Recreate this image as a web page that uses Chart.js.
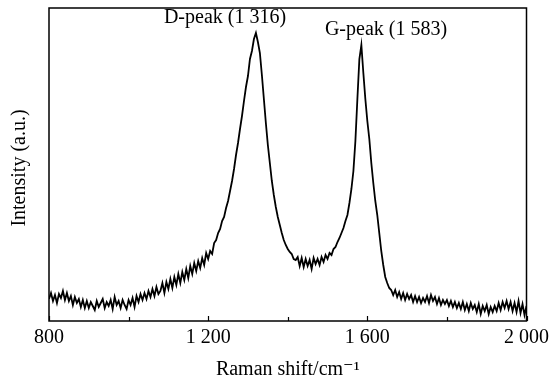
<!DOCTYPE html>
<html>
<head>
<meta charset="utf-8">
<script src="https://cdn.jsdelivr.net/npm/chart.js@4"></script>
<style>
  html, body { margin: 0; padding: 0; background: #fff; }
  #wrap { width: 554px; height: 382px; }
</style>
</head>
<body>
<div id="wrap"><canvas id="c" width="554" height="382"></canvas></div>
<script>
// Raman shift (cm^-1), sampled every 5 cm^-1 from 800 to 2000
const ramanShift = [];
for (let x = 800; x <= 2000; x += 5) ramanShift.push(x);

// Intensity (a.u.)
const intensity = [
  22,28,20,26,18,27,23,30,21,28,20,25,16,24,18,22,14,21,13,20,
  13,19,15,11,20,14,18,22,13,19,15,21,12,24,16,20,13,21,16,12,
  21,16,23,14,25,19,27,21,28,22,30,24,32,25,34,27,30,38,28,39,
  32,42,33,44,36,47,38,49,41,52,43,55,47,58,50,60,53,63,56,68,
  62,70,67,78,81,88,92,100,104,113,120,130,140,152,166,178,192,205,220,234,
  245,262,270,282,288,279,268,246,222,198,176,158,140,126,114,104,96,88,81,76,
  72,69,67,62,61,64,55,63,54,62,55,61,52,63,57,62,56,64,59,66,
  62,68,66,72,74,79,83,88,93,100,106,118,132,150,180,222,262,276,248,222,
  200,182,158,138,120,106,88,70,56,44,38,33,31,26,31,24,29,22,28,21,
  27,22,26,19,25,19,24,18,23,19,25,18,26,20,24,17,23,16,21,17,
  21,15,20,14,19,13,18,12,19,11,17,10,18,12,16,9,17,7,15,10,
  16,7,14,9,15,10,18,11,19,13,20,12,19,10,18,9,20,8,17,6,
  15
];

// Axis tick labels
const xTickValues = [800, 1200, 1600, 2000];
const xTickLabels = ["800", "1 200", "1 600", "2 000"];
const xMinorValues = [1000, 1400, 1800];

// Peak annotations
const peakLabels = ["D-peak (1 316)", "G-peak (1 583)"];

const FONT = "'Liberation Serif', 'DejaVu Serif', serif";

const framePlugin = {
  id: 'frame',
  afterDraw(chart) {
    const ctx = chart.ctx, a = chart.chartArea, xs = chart.scales.x;
    ctx.save();
    ctx.strokeStyle = '#000';
    ctx.lineWidth = 1.5;
    ctx.strokeRect(a.left, a.top, a.right - a.left, a.bottom - a.top);
    ctx.lineWidth = 1.2;
    xTickValues.forEach(v => {
      const px = Math.round(xs.getPixelForValue(v)) + 0.5;
      ctx.beginPath(); ctx.moveTo(px, a.bottom); ctx.lineTo(px, a.bottom - 5); ctx.stroke();
    });
    xMinorValues.forEach(v => {
      const px = Math.round(xs.getPixelForValue(v)) + 0.5;
      ctx.beginPath(); ctx.moveTo(px, a.bottom); ctx.lineTo(px, a.bottom - 4); ctx.stroke();
    });
    // peak labels
    ctx.fillStyle = '#000';
    ctx.font = '20px ' + FONT;
    ctx.textAlign = 'center';
    ctx.textBaseline = 'middle';
    ctx.fillText(peakLabels[0], 225, 18);
    ctx.fillText(peakLabels[1], 386, 30);
    // y title
    ctx.save();
    ctx.translate(20, 168);
    ctx.rotate(-Math.PI / 2);
    ctx.fillText('Intensity (a.u.)', 0, 0);
    ctx.restore();
    ctx.restore();
  }
};

new Chart(document.getElementById('c'), {
  type: 'line',
  data: {
    datasets: [{
      data: ramanShift.map((x, i) => ({ x: x, y: intensity[i] })),
      borderColor: '#000',
      borderWidth: 1.8,
      pointRadius: 0,
      tension: 0,
      fill: false
    }]
  },
  options: {
    responsive: false,
    animation: false,
    events: [],
    layout: { padding: { top: 8, right: 26, left: 0, bottom: 0 } },
    plugins: { legend: { display: false }, tooltip: { enabled: false } },
    scales: {
      x: {
        type: 'linear',
        min: 800, max: 2000,
        afterBuildTicks(scale) {
          scale.ticks = xTickValues.map(v => ({ value: v }));
        },
        afterFit(scale) { scale.height = 61; },
        grid: { display: false, drawTicks: false },
        border: { display: false },
        ticks: {
          padding: 5,
          color: '#000',
          font: { family: FONT, size: 20 },
          maxRotation: 0,
          autoSkip: false,
          callback: (v) => xTickLabels[xTickValues.indexOf(v)]
        },
        title: {
          display: true,
          text: 'Raman shift/cm\u207B\u00B9',
          color: '#000',
          font: { family: FONT, size: 20 },
          padding: { top: 6, bottom: 0 }
        }
      },
      y: {
        min: 0, max: 313,
        afterFit(scale) { scale.width = 49; },
        grid: { display: false, drawTicks: false },
        border: { display: false },
        ticks: { display: false }
      }
    }
  },
  plugins: [framePlugin]
});
</script>
</body>
</html>
